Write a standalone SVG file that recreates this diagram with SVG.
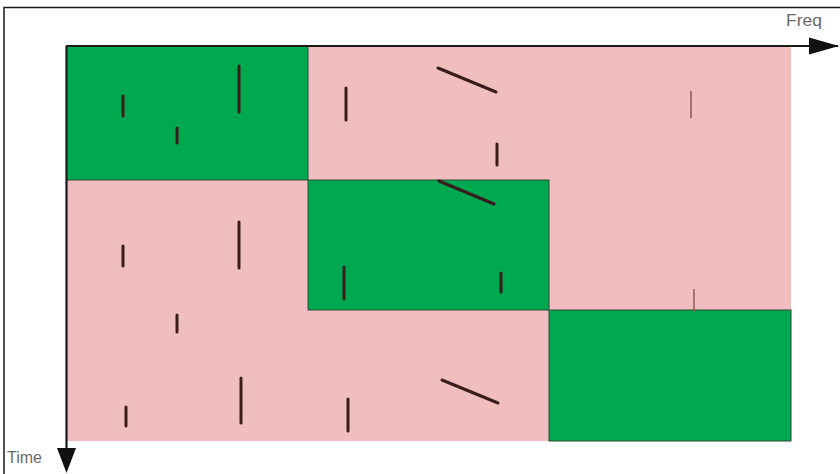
<svg xmlns="http://www.w3.org/2000/svg" width="840" height="474" viewBox="0 0 840 474">
<style>
.frame{fill:none;stroke:#1a1a1a;stroke-width:1.5}
.pink{fill:#f0bebe}
.green{fill:#00a84f;stroke:#2f4a36;stroke-width:1}
.mark{stroke:#3a1c1c;stroke-width:3;stroke-linecap:round}
.faint{stroke:#8a5a5a;stroke-width:1.5}
.axis{stroke:#1a1a1a;stroke-width:2.2;fill:none}
.lbl{font-family:"Liberation Sans",Arial,sans-serif;font-size:16px;fill:#6a6a6a}
</style>
<defs>
<marker id="arr" viewBox="0 0 10 10" refX="9.5" refY="5" markerWidth="10" markerHeight="8" markerUnits="userSpaceOnUse" orient="auto" overflow="visible">
<path d="M0,0 L10,5 L0,10 Z" fill="#111"/>
</marker>
</defs>
<rect x="0" y="0" width="840" height="474" fill="#ffffff"/>
<path class="frame" d="M4,474 V7.5 H840"/>
<g id="plane">
<rect class="pink" x="66" y="46" width="725" height="395"/>
</g>
<g id="block1"><rect class="green" x="66.5" y="46" width="241.5" height="134"/></g>
<g id="block2"><rect class="green" x="308" y="180" width="241" height="130"/></g>
<g id="block3"><rect class="green" x="549" y="310" width="242" height="131"/></g>
<g id="marks">
<line class="mark" x1="123" y1="96" x2="123" y2="116"/>
<line class="mark" x1="177" y1="128" x2="177" y2="143"/>
<line class="mark" x1="239" y1="66" x2="239" y2="112"/>
<line class="mark" x1="346" y1="88" x2="346" y2="120"/>
<line class="mark" x1="438" y1="68" x2="496" y2="92"/>
<line class="mark" x1="497" y1="144" x2="497" y2="165"/>
<line class="mark" x1="439" y1="181" x2="494" y2="204"/>
<line class="faint" x1="691" y1="91" x2="691" y2="118"/>
<line class="faint" x1="694" y1="289" x2="694" y2="312"/>
<line class="mark" x1="123" y1="246" x2="123" y2="266"/>
<line class="mark" x1="239" y1="222" x2="239" y2="268"/>
<line class="mark" x1="344" y1="267" x2="344" y2="299"/>
<line class="mark" x1="501" y1="273" x2="501" y2="292"/>
<line class="mark" x1="177" y1="315" x2="177" y2="332"/>
<line class="mark" x1="126" y1="407" x2="126" y2="426"/>
<line class="mark" x1="241" y1="378" x2="241" y2="423"/>
<line class="mark" x1="348" y1="399" x2="348" y2="431"/>
<line class="mark" x1="442" y1="380" x2="498" y2="403"/>
</g>
<g id="connectors">
<line class="axis" x1="66" y1="46" x2="838" y2="46"/>
<path d="M809,37.5 L839,46 L809,54.5 Z" fill="#111"/>
<line class="axis" x1="66.5" y1="46" x2="66.5" y2="452"/>
<path d="M57,448 L66.5,473 L76,448 Z" fill="#111"/>
</g>
<g id="labels">
<text class="lbl" x="786" y="26" textLength="36" lengthAdjust="spacingAndGlyphs">Freq</text>
<text class="lbl" x="7" y="463">Time</text>
</g>
</svg>
